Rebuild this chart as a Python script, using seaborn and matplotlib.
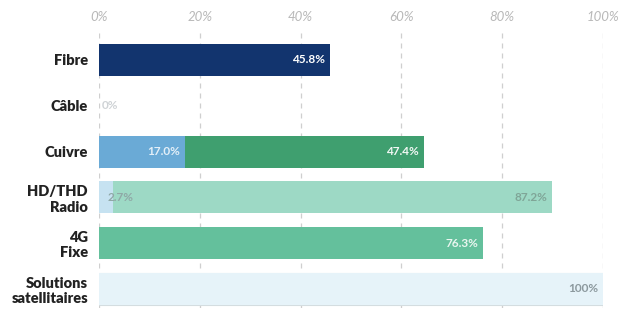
import numpy as np
import pandas as pd
import matplotlib
matplotlib.use("Agg")
import matplotlib.pyplot as plt
import seaborn as sns

categories = ["Fibre", "Câble", "Cuivre", "HD/THD\nRadio", "4G\nFixe", "Solutions\nsatellitaires"]
first_values = [45.8, 0.0, 17.0, 2.7, 76.3, 100.0]
second_values = [0.0, 0.0, 47.4, 87.2, 0.0, 0.0]
first_colors = ["#12346e", "#e6f3f9", "#6aaad6", "#c6e2f1", "#64c09c", "#e6f3f9"]
second_colors = ["#12346e", "#e6f3f9", "#3f9f6f", "#9dd9c5", "#64c09c", "#e6f3f9"]
first_label_colors = ["white", "#cfd3d6", "#e3eff8", "#8fa8a6", "#eaf6f0", "#8c999e"]
second_label_colors = [None, None, "#f2f8f4", "#7fa597", None, None]
ticks = [0, 20, 40, 60, 80, 100]

sns.set_theme(style="white")
plt.rcParams["font.family"] = ["Lato", "DejaVu Sans"]

df = pd.DataFrame({"cat": categories, "first": first_values, "second": second_values})
df["total"] = df["first"] + df["second"]

fig = plt.figure(figsize=(6.19, 3.12), dpi=100)
ax = fig.add_axes([0.16, 0.013, 0.814, 0.891])

# totals first (second segment colour), then first segment on top
sns.barplot(data=df, x="total", y="cat", hue="cat", palette=second_colors, legend=False,
            orient="h", width=0.7, ax=ax, zorder=2, linewidth=0.8, edgecolor="#d4dde0",
            saturation=1)
sns.barplot(data=df, x="first", y="cat", hue="cat", palette=first_colors, legend=False,
            orient="h", width=0.7, ax=ax, zorder=3, linewidth=0, saturation=1)
# keep the border only on the full satellite bar
for p in ax.patches:
    if p.get_width() < 99:
        p.set_linewidth(0)

for i in range(len(categories)):
    f, s = first_values[i], second_values[i]
    if f < 5:
        ax.text(f / 2 + 0.3 if f > 0 else 0.6, i, f"{f:.1f}%" if f > 0 else "0%",
                ha="left", va="center", fontsize=8.5, fontweight="bold",
                color=first_label_colors[i], zorder=5)
    else:
        lbl = "100%" if f == 100 else f"{f:.1f}%"
        ax.text(f - 1.0, i, lbl, ha="right", va="center", fontsize=8.5,
                fontweight="bold", color=first_label_colors[i], zorder=5)
    if s > 0:
        ax.text(f + s - 1.0, i, f"{s:.1f}%", ha="right", va="center", fontsize=8.5,
                fontweight="bold", color=second_label_colors[i], zorder=5)

ax.set_xlim(0, 100)
ax.set_ylim(5.415, -0.655)
ax.xaxis.tick_top()
ax.set_xticks(ticks)
ax.set_xticklabels([f"{t}%" for t in ticks], fontsize=9.5, style="italic", color="#b8b8b8")
ax.tick_params(axis="x", length=0, pad=5)
ax.tick_params(axis="y", length=0, pad=8)
for lbl in ax.get_yticklabels():
    lbl.set_fontweight("heavy")
    lbl.set_fontsize(10.5)
    lbl.set_color("#222222")
    lbl.set_horizontalalignment("right")
    lbl.set_multialignment("right")
ax.set_xlabel("")
ax.set_ylabel("")
for sp in ax.spines.values():
    sp.set_visible(False)
for t in ticks:
    ax.axvline(t, color="#cfcfcf", linestyle=(0, (4, 4)), linewidth=0.9, zorder=1)

fig.savefig("out.png", dpi=100)
